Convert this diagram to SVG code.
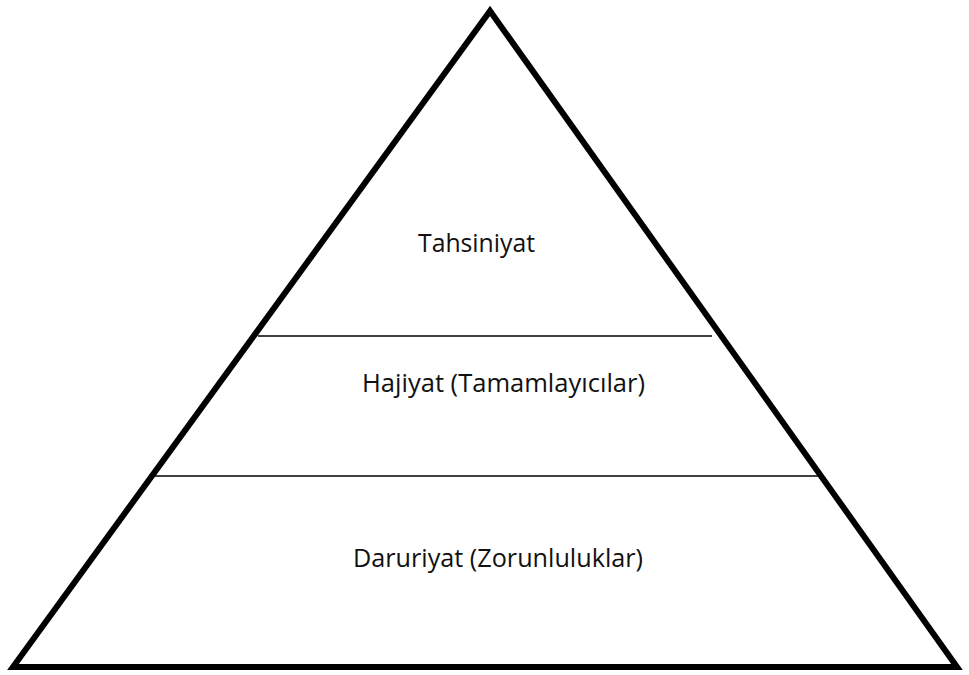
<svg xmlns="http://www.w3.org/2000/svg" width="969" height="675" viewBox="0 0 969 675">
<style>
.lbl{font-family:"Open Sans","Liberation Sans",sans-serif;font-size:25px;fill:#111;text-anchor:middle}
.div{stroke:#000;stroke-width:1.6}
</style>
<rect width="969" height="675" fill="#fff"/>
<g id="pyramid">
<polygon points="490,11 13,667 957,667" fill="none" stroke="#000" stroke-width="6" stroke-linejoin="miter"/>
</g>
<g id="connectors">
<line class="div" x1="258" y1="336" x2="712" y2="336"/>
<line class="div" x1="150" y1="476" x2="822" y2="476"/>
</g>
<g id="tahsiniyat"><text class="lbl" x="476.5" y="252" textLength="117" lengthAdjust="spacingAndGlyphs">Tahsiniyat</text></g>
<g id="hajiyat"><text class="lbl" x="503.5" y="392" textLength="283" lengthAdjust="spacingAndGlyphs">Hajiyat (Tamamlayıcılar)</text></g>
<g id="daruriyat"><text class="lbl" x="498" y="567" textLength="290" lengthAdjust="spacingAndGlyphs">Daruriyat (Zorunluluklar)</text></g>
</svg>
